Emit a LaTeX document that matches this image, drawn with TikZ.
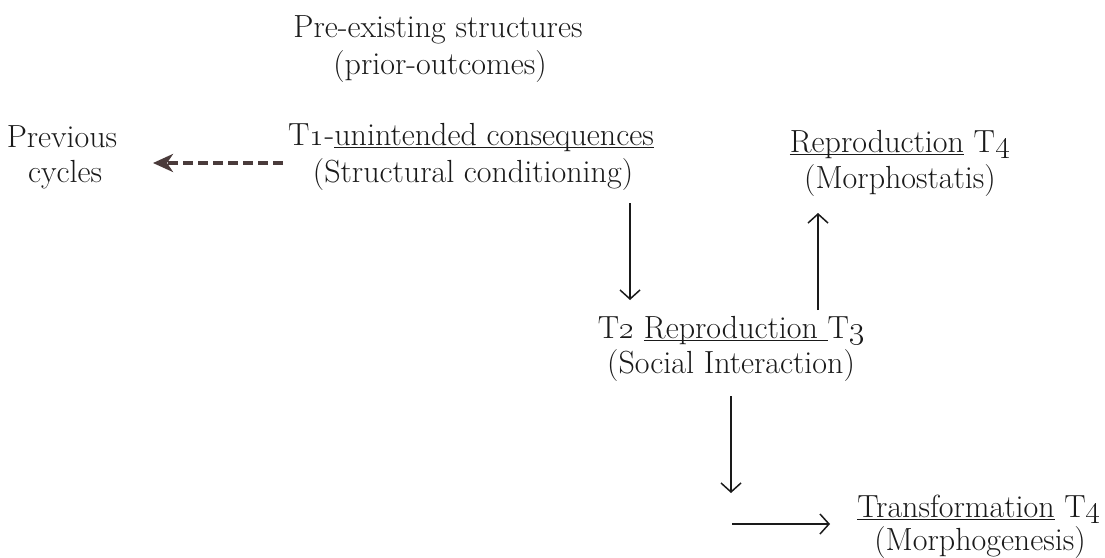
\RequirePackage{fix-cm}
\documentclass[tikz,border=0pt]{standalone}
\usetikzlibrary{arrows.meta}
\definecolor{dashbrown}{HTML}{4A3B3B}
\definecolor{ink}{HTML}{1A1A1A}
\newcommand\myul[1]{\setbox0\hbox{#1}\rlap{\rule[-3pt]{\wd0}{1.4pt}}\box0\relax}
\begin{document}
\begin{tikzpicture}[x=1pt,y=-1pt,
  txt/.style={inner sep=0pt, anchor=base, font=\fontsize{32}{38}\selectfont, text=ink},
  arr/.style={line width=1.5pt, draw=ink, -{Straight Barb[length=9pt,width=20pt,line width=1.5pt]}},
  dasharr/.style={line width=3.5pt, draw=dashbrown, dash pattern=on 10pt off 5pt, -{Stealth[length=20pt,width=18pt,inset=6pt]}}]
\useasboundingbox (0,0) rectangle (1105,557);

% texts
\node[txt] (pre1) at (438,37) {Pre-existing structures};
\node[txt] (pre2) at (440,74) {(prior-outcomes)};

\node[txt] (prev1) at (62,147) {Previous};
\node[txt] (prev2) at (65,182) {cycles};

\node[txt] (t1a) at (471,145) {T\oldstylenums{1}-\myul{unintended consequences}};
\node[txt] (t1b) at (473,182) {(Structural conditioning)};

\node[txt] (rep1) at (900,152) {\myul{Reproduction} T\oldstylenums{4}};
\node[txt] (rep2) at (900,188) {(Morphostatis)};

\node[txt] (t2a) at (731,338) {T\oldstylenums{2} \myul{Reproduction\ }T\oldstylenums{3}};
\node[txt] (t2b) at (731,373) {(Social Interaction)};

\node[txt] (tr1) at (979,517) {\myul{Transformation} T\oldstylenums{4}};
\node[txt] (tr2) at (980,550) {(Morphogenesis)};

% arrow end points
\coordinate (dA) at (283,163);
\coordinate (dB) at (153,163);
\coordinate (a1s) at (630,203);
\coordinate (a1e) at (630,300);
\coordinate (a2s) at (818,310);
\coordinate (a2e) at (818,213);
\coordinate (a3s) at (731,396);
\coordinate (a3e) at (731,493);
\coordinate (a4s) at (732,524);
\coordinate (a4e) at (830,524);

\draw[dasharr] (dA) -- (dB);
\draw[arr] (a1s) -- (a1e);
\draw[arr] (a2s) -- (a2e);
\draw[arr] (a3s) -- (a3e);
\draw[arr] (a4s) -- (a4e);
\end{tikzpicture}
\end{document}
